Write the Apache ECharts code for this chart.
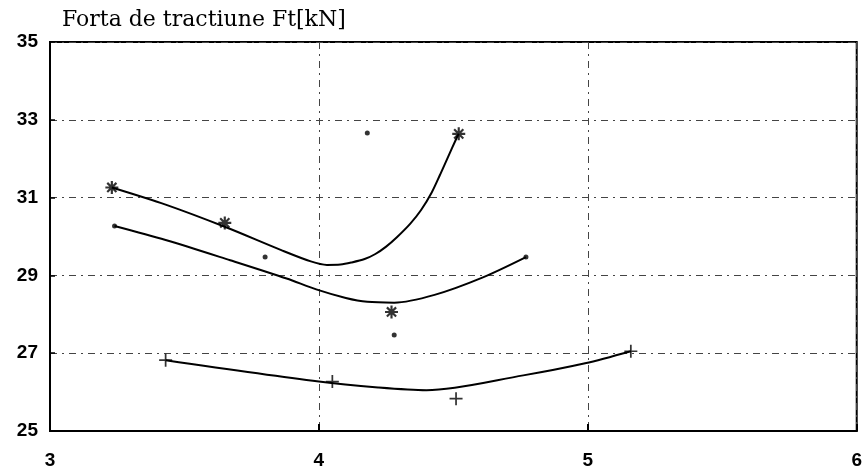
<!DOCTYPE html>
<html>
<head>
<meta charset="utf-8">
<script src="https://cdn.jsdelivr.net/npm/echarts@6/dist/echarts.min.js"></script>
<style>
  html, body { margin: 0; padding: 0; background: #fff; }
  #chart { width: 865px; height: 472px; }
</style>
</head>
<body>
<div id="chart"></div>
<script>
// measured points (markers)
const starX = [3.23, 3.65, 4.27, 4.52];
const starY = [31.26, 30.35, 28.06, 32.64];
const dotX = [3.24, 3.80, 4.18, 4.28, 4.77];
const dotY = [30.27, 29.47, 32.66, 27.47, 29.47];
const plusX = [3.43, 4.05, 4.51, 5.16];
const plusY = [26.82, 26.27, 25.83, 27.05];

// fitted curves
const starCurveX = [3.23, 3.43, 3.65, 3.86, 3.97, 4.03, 4.08, 4.12, 4.17, 4.21, 4.25, 4.29,
  4.34, 4.38, 4.42, 4.45, 4.48, 4.51, 4.52];
const starCurveY = [31.26, 30.82, 30.25, 29.65, 29.36, 29.27, 29.28, 29.33, 29.42, 29.55, 29.74, 29.98,
  30.33, 30.68, 31.14, 31.58, 32.04, 32.5, 32.64];
const dotCurveX = [3.24, 3.43, 3.67, 3.88, 3.99, 4.10, 4.18, 4.28, 4.43, 4.61, 4.77];
const dotCurveY = [30.27, 29.91, 29.39, 28.92, 28.64, 28.42, 28.32, 28.3, 28.5, 28.95, 29.47];
const plusCurveX = [3.43, 4.0, 4.22, 4.40, 4.76, 4.99, 5.16];
const plusCurveY = [26.82, 26.27, 26.12, 26.05, 26.43, 26.74, 27.05];

const xTicks = [3, 4, 5, 6];
const yTicks = [25, 27, 29, 31, 33, 35];

const zip = (xs, ys) => xs.map((x, i) => [x, ys[i]]);

// asterisk and plus marker shapes
const asterisk = 'path://M-1,-6L1,-6L1,6L-1,6Z M-6,-1L6,-1L6,1L-6,1Z ' +
  'M-3.54,-4.95L4.95,3.54L3.54,4.95L-4.95,-3.54Z M3.54,-4.95L4.95,-3.54L-3.54,4.95L-4.95,3.54Z';
const plus = 'path://M-6,-0.8L6,-0.8L6,0.8L-6,0.8Z M-0.8,-6L0.8,-6L0.8,6L-0.8,6Z';

const gridLine = { color: '#444', width: 1, type: [7, 5, 2, 5] };
const labelFont = { color: '#000', fontFamily: 'Liberation Sans', fontWeight: 'bold', fontSize: 19 };

const curve = (xs, ys) => ({
  type: 'line',
  data: zip(xs, ys),
  smooth: 0.3,
  showSymbol: false,
  lineStyle: { color: '#000', width: 2 },
  silent: true,
});

const option = {
  animation: false,
  backgroundColor: '#fff',
  title: {
    text: 'Forta de tractiune Ft[kN]',
    left: 57,
    top: 4,
    textStyle: { fontFamily: 'DejaVu Serif', fontSize: 22, fontWeight: 'normal', color: '#000' },
  },
  grid: {
    left: 50, right: 6, top: 42, bottom: 41,
    show: true, borderColor: '#000', borderWidth: 2,
  },
  xAxis: {
    type: 'value',
    min: xTicks[0], max: xTicks[xTicks.length - 1], interval: 1,
    axisLine: { lineStyle: { color: '#000', width: 2 } },
    axisTick: { inside: true, length: 7, lineStyle: { color: '#000', width: 2 } },
    axisLabel: Object.assign({ margin: 20 }, labelFont),
    splitLine: { show: true, lineStyle: gridLine },
  },
  yAxis: {
    type: 'value',
    min: yTicks[0], max: yTicks[yTicks.length - 1], interval: 2,
    axisLine: { show: true, lineStyle: { color: '#000', width: 2 } },
    axisTick: { show: true, inside: true, length: 5, lineStyle: { color: '#000', width: 1.5 } },
    axisLabel: Object.assign({ margin: 12 }, labelFont),
    splitLine: { show: true, lineStyle: gridLine },
  },
  series: [
    curve(starCurveX, starCurveY),
    curve(dotCurveX, dotCurveY),
    curve(plusCurveX, plusCurveY),
    { type: 'scatter', data: zip(starX, starY), symbol: asterisk, symbolSize: 13, itemStyle: { color: '#000' } },
    { type: 'scatter', data: zip(dotX, dotY), symbol: 'circle', symbolSize: 5, itemStyle: { color: '#000' } },
    { type: 'scatter', data: zip(plusX, plusY), symbol: plus, symbolSize: 13, itemStyle: { color: '#000' } },
  ],
};

const myChart = echarts.init(document.getElementById('chart'));
myChart.setOption(option);
</script>
</body>
</html>
